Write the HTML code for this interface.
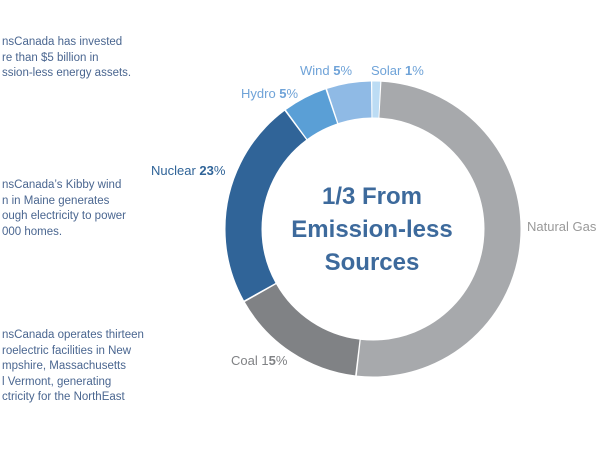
<!DOCTYPE html>
<html><head><style>
body{margin:0;width:600px;height:450px;background:#fff;overflow:hidden;position:relative;font-family:"Liberation Sans",sans-serif}
.l{position:absolute;left:2px;font-size:11.5px;line-height:15.5px;color:#4a6690}
</style></head><body>
<div class="l" style="top:35px">nsCanada has invested<br>re than $5 billion in<br>ssion-less energy assets.</div>
<div class="l" style="top:178px">nsCanada’s Kibby wind<br>n in Maine generates<br>ough electricity to power<br>000 homes.</div>
<div class="l" style="top:328px">nsCanada operates thirteen<br>roelectric facilities in New<br>mpshire, Massachusetts<br>l Vermont, generating<br>ctricity for the NorthEast</div>
<svg width="600" height="450" style="position:absolute;left:0;top:0" font-family="Liberation Sans, sans-serif">
<g transform="rotate(-90.3 373 229)" fill="none" stroke-width="36">
<circle cx="373" cy="229" r="129.5" stroke="#bcdcf4" stroke-dasharray="7.1 900" stroke-dashoffset="0"/>
<circle cx="373" cy="229" r="129.5" stroke="#a7a9ac" stroke-dasharray="413.5 900" stroke-dashoffset="-8.14"/>
<circle cx="373" cy="229" r="129.5" stroke="#808285" stroke-dasharray="120.5 900" stroke-dashoffset="-423.1"/>
<circle cx="373" cy="229" r="129.5" stroke="#306498" stroke-dasharray="185.6 900" stroke-dashoffset="-545.2"/>
<circle cx="373" cy="229" r="129.5" stroke="#5a9fd6" stroke-dasharray="39.2 900" stroke-dashoffset="-732.3"/>
<circle cx="373" cy="229" r="129.5" stroke="#8fbae5" stroke-dasharray="39.2 900" stroke-dashoffset="-773"/>
</g>
<g font-size="13" fill="#6fa3d8">
<text x="300" y="75">Wind <tspan font-weight="bold">5</tspan>%</text>
<text x="371" y="75">Solar <tspan font-weight="bold">1</tspan>%</text>
<text x="241" y="98">Hydro <tspan font-weight="bold">5</tspan>%</text>
</g>
<text x="151" y="175" font-size="13" fill="#306498">Nuclear <tspan font-weight="bold">23</tspan>%</text>
<text x="527" y="231" font-size="13" fill="#999">Natural Gas</text>
<text x="231" y="365" font-size="13" fill="#808285">Coal 1<tspan font-weight="bold">5</tspan>%</text>
<g font-size="24" font-weight="bold" fill="#3d6a9c" text-anchor="middle">
<text x="372" y="204">1/3 From</text>
<text x="372" y="237">Emission-less</text>
<text x="372" y="270">Sources</text>
</g>
</svg>
</body></html>
